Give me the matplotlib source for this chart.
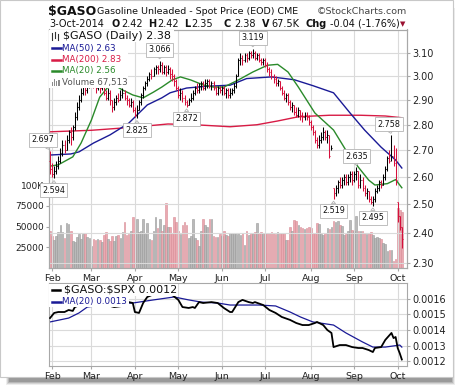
import numpy as np
import pandas as pd
import matplotlib
matplotlib.use("Agg")
import matplotlib.pyplot as plt
from matplotlib.patches import Rectangle
from matplotlib.lines import Line2D
from matplotlib.ticker import FixedLocator, NullLocator, FuncFormatter

W, H = 464, 387

# trading days Jan 31 .. Oct 3 2014
holidays = ["2014-02-17", "2014-04-18", "2014-05-26", "2014-07-04", "2014-09-01"]
days = pd.bdate_range("2014-01-31", "2014-10-03")
days = days[~days.isin(pd.to_datetime(holidays))]

close = [2.63, 2.61, 2.62, 2.64, 2.66, 2.69, 2.72, 2.70, 2.74, 2.77,
         2.75, 2.79, 2.83, 2.87, 2.90, 2.93, 2.96, 2.94, 2.97, 2.98,
         2.99, 2.96, 2.95, 2.97, 2.95, 2.96, 2.93, 2.91, 2.93, 2.90,
         2.87, 2.89, 2.91, 2.90, 2.92, 2.93, 2.91, 2.90, 2.88, 2.89,
         2.86, 2.84, 2.86, 2.89, 2.92, 2.95, 2.97, 2.99, 3.01, 3.00,
         3.03, 3.04, 3.03, 3.05, 3.02, 3.04, 3.02, 3.03, 3.01, 3.00,
         2.98, 2.95, 2.92, 2.93, 2.91, 2.89, 2.88, 2.90, 2.91, 2.93,
         2.95, 2.94, 2.96, 2.97, 2.95, 2.97, 2.98, 2.96, 2.97, 2.95,
         2.93, 2.95, 2.94, 2.95, 2.93, 2.94, 2.92, 2.93, 2.94, 2.96,
         3.00, 3.07, 3.08, 3.07, 3.09, 3.08, 3.10, 3.09, 3.10, 3.08,
         3.09, 3.07, 3.06, 3.07, 3.05, 3.03, 3.02, 3.00, 2.99, 2.97,
         2.98, 2.95, 2.93, 2.91, 2.92, 2.89, 2.87, 2.88, 2.85, 2.84,
         2.86, 2.84, 2.83, 2.84, 2.83, 2.81, 2.79, 2.77, 2.74, 2.72,
         2.74, 2.75, 2.77, 2.75, 2.76, 2.68, 2.71, 2.54, 2.56, 2.58,
         2.57, 2.59, 2.60, 2.58, 2.60, 2.61, 2.59, 2.61, 2.62, 2.57,
         2.59, 2.56, 2.54, 2.55, 2.52, 2.51, 2.52, 2.55, 2.56, 2.58,
         2.57, 2.60, 2.63, 2.67, 2.66, 2.68, 2.65, 2.59, 2.46, 2.42,
         2.38]
high = [2.697, 2.65, 2.64, 2.66, 2.68, 2.71, 2.74, 2.74, 2.76, 2.78,
        2.79, 2.80, 2.85, 2.89, 2.92, 2.95, 2.98, 2.98, 2.99, 3.00,
        3.01, 3.00, 2.98, 2.99, 2.98, 2.98, 2.97, 2.94, 2.95, 2.94,
        2.90, 2.91, 2.92, 2.93, 2.94, 2.95, 2.94, 2.92, 2.91, 2.91,
        2.90, 2.87, 2.88, 2.90, 2.93, 2.96, 2.98, 3.00, 3.02, 3.03,
        3.04, 3.05, 3.05, 3.066, 3.06, 3.05, 3.05, 3.05, 3.04, 3.03,
        3.01, 2.99, 2.96, 2.95, 2.94, 2.92, 2.90, 2.91, 2.93, 2.94,
        2.96, 2.97, 2.97, 2.98, 2.98, 2.99, 2.99, 2.99, 2.98, 2.98,
        2.96, 2.96, 2.96, 2.96, 2.96, 2.95, 2.95, 2.95, 2.95, 2.97,
        3.01, 3.08, 3.10, 3.09, 3.10, 3.10, 3.11, 3.11, 3.119, 3.11,
        3.10, 3.10, 3.08, 3.08, 3.08, 3.06, 3.04, 3.03, 3.01, 3.00,
        2.99, 2.98, 2.96, 2.94, 2.93, 2.93, 2.90, 2.89, 2.88, 2.87,
        2.87, 2.86, 2.85, 2.85, 2.85, 2.84, 2.82, 2.80, 2.78, 2.75,
        2.76, 2.77, 2.79, 2.78, 2.78, 2.76, 2.72, 2.56, 2.57, 2.59,
        2.60, 2.60, 2.61, 2.61, 2.61, 2.62, 2.62, 2.62, 2.635, 2.62,
        2.61, 2.60, 2.57, 2.56, 2.55, 2.53, 2.53, 2.56, 2.57, 2.59,
        2.59, 2.61, 2.64, 2.68, 2.70, 2.758, 2.72, 2.71, 2.51, 2.46,
        2.42]
low = [2.61, 2.60, 2.594, 2.61, 2.63, 2.65, 2.68, 2.69, 2.70, 2.73,
       2.72, 2.74, 2.78, 2.82, 2.86, 2.89, 2.92, 2.92, 2.93, 2.95,
       2.96, 2.95, 2.93, 2.94, 2.93, 2.94, 2.92, 2.90, 2.90, 2.88,
       2.85, 2.86, 2.88, 2.89, 2.90, 2.91, 2.90, 2.88, 2.87, 2.87,
       2.85, 2.83, 2.825, 2.86, 2.88, 2.91, 2.94, 2.96, 2.98, 2.99,
       3.00, 3.01, 3.01, 3.02, 3.01, 3.01, 3.00, 3.01, 2.99, 2.98,
       2.96, 2.94, 2.91, 2.90, 2.89, 2.88, 2.872, 2.88, 2.89, 2.90,
       2.92, 2.93, 2.93, 2.94, 2.94, 2.94, 2.95, 2.95, 2.94, 2.94,
       2.92, 2.92, 2.93, 2.92, 2.92, 2.91, 2.91, 2.91, 2.92, 2.93,
       2.95, 3.00, 3.05, 3.05, 3.06, 3.06, 3.07, 3.08, 3.08, 3.07,
       3.07, 3.06, 3.05, 3.05, 3.04, 3.02, 3.00, 2.99, 2.97, 2.96,
       2.96, 2.94, 2.92, 2.90, 2.89, 2.88, 2.86, 2.85, 2.84, 2.83,
       2.83, 2.82, 2.81, 2.82, 2.82, 2.80, 2.78, 2.76, 2.73, 2.71,
       2.71, 2.73, 2.74, 2.74, 2.73, 2.67, 2.70, 2.519, 2.53, 2.54,
       2.56, 2.56, 2.57, 2.57, 2.57, 2.58, 2.57, 2.58, 2.59, 2.56,
       2.56, 2.55, 2.53, 2.52, 2.51, 2.50, 2.495, 2.51, 2.54, 2.55,
       2.56, 2.57, 2.59, 2.62, 2.65, 2.66, 2.64, 2.57, 2.44, 2.41,
       2.35]
volume_k = [44, 38, 33, 38, 43, 52, 43, 36, 54, 53,
            45, 32, 31, 37, 41, 35, 41, 42, 37, 36,
            26, 35, 34, 35, 34, 31, 40, 43, 35, 32,
            39, 32, 39, 40, 36, 43, 56, 40, 41, 44,
            61, 41, 59, 43, 45, 59, 41, 54, 35, 34,
            45, 61, 48, 59, 44, 52, 79, 49, 49, 41,
            62, 56, 44, 41, 52, 55, 52, 36, 38, 59,
            36, 34, 26, 44, 59, 52, 50, 59, 59, 38,
            37, 37, 41, 38, 45, 40, 38, 42, 41, 42,
            41, 42, 40, 42, 27, 44, 40, 42, 41, 43,
            54, 42, 43, 42, 41, 42, 42, 43, 42, 41,
            43, 42, 41, 42, 34, 33, 50, 45, 58, 57,
            52, 50, 48, 47, 48, 49, 48, 42, 42, 54,
            53, 41, 40, 42, 48, 47, 49, 57, 56, 57,
            52, 51, 40, 41, 45, 58, 46, 44, 63, 45,
            44, 45, 42, 41, 42, 43, 40, 36, 37, 36,
            35, 30, 29, 20, 21, 21, 8, 10, 73, 70,
            67.5]

# moving averages (trading-day index, value)
ma50_idx = [0, 10, 14, 21, 29, 38, 43, 47, 54, 58, 66, 75, 87, 95, 107, 118, 127, 137, 145, 152, 160, 167, 170]
ma50_val = [2.682, 2.686, 2.694, 2.728, 2.76, 2.806, 2.847, 2.88, 2.909, 2.93, 2.95, 2.957, 2.962, 2.99, 2.997,
            2.985, 2.96, 2.93, 2.847, 2.779, 2.712, 2.663, 2.633]
ma200_idx = [0, 20, 40, 57, 70, 87, 100, 110, 120, 135, 150, 162, 170]
ma200_val = [2.772, 2.778, 2.79, 2.803, 2.80, 2.792, 2.80, 2.815, 2.832, 2.838, 2.838, 2.835, 2.828]
ma20_idx = [0, 4, 11, 15, 20, 24, 28, 31, 35, 40, 45, 50, 54, 59, 63, 68, 74, 79, 84, 91, 98, 105, 110, 115,
            120, 128, 137, 143, 149, 154, 157, 163, 167, 170]
ma20_val = [2.64, 2.645, 2.675, 2.728, 2.819, 2.912, 2.954, 2.963, 2.942, 2.921, 2.909, 2.933, 2.954, 2.984,
            2.997, 2.984, 2.963, 2.954, 2.954, 2.984, 3.018, 3.047, 3.051, 3.018, 2.954, 2.847, 2.779, 2.70,
            2.636, 2.588, 2.57, 2.575, 2.59, 2.56]

# $GASO:$SPX ratio and its MA(20)
ratio_idx = [0, 2, 4, 7, 9, 11, 12, 16, 20, 25, 31, 35, 38, 40, 41, 43, 45, 47, 50, 54, 59, 62, 64, 67, 69, 70,
             72, 74, 78, 81, 84, 87, 88, 91, 93, 96, 98, 99, 103, 106, 109, 112, 116, 119, 122, 125, 128, 129,
             132, 134, 136, 137, 140, 143, 146, 149, 151, 154, 156, 157, 160, 162, 165, 166, 167, 168, 169, 170]
ratio_val = [0.001477, 0.00151, 0.001516, 0.001516, 0.001529, 0.001523, 0.001548, 0.00157, 0.00158, 0.00157,
             0.001548, 0.001555, 0.00158, 0.001574, 0.001516, 0.00151, 0.001574, 0.001613, 0.00163, 0.00164,
             0.001626, 0.001594, 0.001548, 0.001542, 0.001548, 0.001542, 0.00158, 0.001574, 0.00158, 0.001574,
             0.001542, 0.001516, 0.001516, 0.00158, 0.001594, 0.00158, 0.001574, 0.00158, 0.001561, 0.001529,
             0.00151, 0.001484, 0.001465, 0.001445, 0.001432, 0.001432, 0.001445, 0.001452, 0.001432, 0.0014,
             0.001381, 0.00129, 0.001303, 0.001303, 0.00129, 0.001284, 0.001284, 0.001271, 0.001258, 0.001284,
             0.00129, 0.001336, 0.001381, 0.001348, 0.001355, 0.001284, 0.00125, 0.00121]
rma_idx = [0, 9, 14, 18, 30, 40, 50, 60, 67, 73, 81, 87, 101, 109, 116, 121, 127, 137, 143, 151, 156, 162, 169, 170]
rma_val = [0.001452, 0.001477, 0.00151, 0.001548, 0.00157, 0.001574, 0.001594, 0.001613, 0.001594, 0.00158,
           0.001574, 0.001561, 0.001561, 0.001555, 0.001516, 0.001484, 0.001452, 0.001432, 0.001381, 0.001323,
           0.00129, 0.00129, 0.001303, 0.00129]

# labelled highs / lows
ann_idx = [0, 2, 42, 53, 66, 98, 137, 148, 156, 165]
ann_val = [2.697, 2.594, 2.825, 3.066, 2.872, 3.119, 2.519, 2.635, 2.495, 2.758]

price_ticks = [2.30, 2.40, 2.50, 2.60, 2.70, 2.80, 2.90, 3.00, 3.10]
vol_ticks = [25000, 50000, 75000, 100000]
vol_labels = ["25000", "50000", "75000", "100K"]
ratio_ticks = [0.0012, 0.0013, 0.0014, 0.0015, 0.0016]

RED = "#d6103c"
NAVY = "#1a1a96"
CRIMSON = "#d81b45"
GREEN = "#2a8a2a"
GRID = "#dadada"
SPINE = "#a8a8a8"


def fx(px):
    return px / W


def fy(py):
    return 1 - py / H


fig = plt.figure(figsize=(W / 100, H / 100), dpi=100)
fig.patch.set_facecolor("white")

# card with drop shadow (behind the axes)
for k, a in enumerate([0.10, 0.16, 0.22, 0.30]):
    fig.patches.append(Rectangle((fx(6 + k), fy(385 - k)), fx(455 - k) - fx(6 + k), fy(8 + k) - fy(385 - k),
                                 transform=fig.transFigure, fc="#555555", ec="none", alpha=a, zorder=-3))
fig.patches.append(Rectangle((fx(0), fy(377)), fx(453), fy(0) - fy(377), transform=fig.transFigure,
                             fc="white", ec="#c8c8c8", lw=0.8, zorder=-2))

x = np.arange(len(close))
up = np.r_[False, np.diff(close) >= 0]
bar_col = np.where(up, "black", RED)
opens = np.clip(np.r_[close[0] + 0.03, close[:-1]], low, high)

month_idx = [np.where(days.month == m)[0][0] for m in range(2, 11)]
month_lab = [days[i].strftime("%b") for i in month_idx]

# ---- price panel ----
ax = fig.add_axes([fx(49), fy(268), fx(407) - fx(49), fy(29.5) - fy(268)])
axv = ax.twinx()
ax.set_zorder(axv.get_zorder() + 1)
ax.patch.set_visible(False)
axv.patch.set_visible(False)

vol_face = np.where(up, "#b9b9b9", "#eaa9b1")
vol_edge = np.where(up, "#9a9a9a", "#d88c96")
axv.bar(x, np.array(volume_k) * 1000, width=0.8, color=vol_face, edgecolor=vol_edge, linewidth=0.4)
axv.set_ylim(-600, 290200)
axv.yaxis.tick_left()
axv.yaxis.set_major_locator(FixedLocator(vol_ticks))
axv.set_yticklabels(vol_labels)
axv.tick_params(axis="y", labelsize=6.5, length=2, pad=1.5, colors=SPINE, labelcolor="#222222")

ax.vlines(x, low, high, colors=bar_col, lw=0.75, zorder=3)
ax.hlines(opens, x - 0.45, x, colors=bar_col, lw=0.75, zorder=3)
ax.hlines(close, x, x + 0.45, colors=bar_col, lw=0.75, zorder=3)
ax.plot(ma200_idx, ma200_val, color=CRIMSON, lw=1.0, zorder=2)
ax.plot(ma50_idx, ma50_val, color=NAVY, lw=1.0, zorder=2)
ax.plot(ma20_idx, ma20_val, color=GREEN, lw=1.0, zorder=2)

ax.set_yscale("log")
ax.set_ylim(2.284, 3.206)
ax.set_xlim(-0.5, 172.5)
ax.yaxis.tick_right()
ax.yaxis.set_major_locator(FixedLocator(price_ticks))
ax.yaxis.set_minor_locator(NullLocator())
ax.yaxis.set_major_formatter(FuncFormatter(lambda v, _: f"{v:.2f}"))
ax.set_xticks(month_idx)
ax.set_xticklabels(month_lab)
ax.tick_params(axis="y", labelsize=7, length=2, pad=2, colors=SPINE, labelcolor="#222222")
ax.tick_params(axis="x", labelsize=6.8, length=2, pad=2, colors=SPINE, labelcolor="#222222")
ax.grid(True, color=GRID, lw=0.8)
for a in (ax, axv):
    for s in a.spines.values():
        s.set_color(SPINE)

for i, v in zip(ann_idx, ann_val):
    is_high = v == high[i]
    dy = 8 if is_high else -8.5
    dx = {0: -5, 2: -0.5, 165: -2}.get(i, 0)
    ax.annotate(f"{v:.3f}", xy=(i, v), xytext=(dx, dy), textcoords="offset points",
                ha="center", va="center", fontsize=5.8, color="#111111", zorder=7,
                annotation_clip=False,
                bbox=dict(boxstyle="square,pad=0.3", fc="white", ec="#b4b4b4", lw=0.6),
                arrowprops=dict(arrowstyle="wedge,tail_width=0.5,shrink_factor=0.5", fc="white",
                                ec="#b4b4b4", lw=0.6, shrinkA=0, shrinkB=1.5))

# legend block (opaque)
fig.patches.append(Rectangle((fx(49.5), fy(42)), fx(174) - fx(49.5), fy(30) - fy(42),
                             transform=fig.transFigure, fc="white", ec="none", zorder=5))
fig.patches.append(Rectangle((fx(49.5), fy(88)), fx(128) - fx(49.5), fy(42) - fy(88),
                             transform=fig.transFigure, fc="white", ec="none", zorder=5))
# tiny OHLC glyph
for gx, y0, y1 in [(52.5, 33, 40), (55.5, 31.5, 38), (58.5, 34, 40)]:
    fig.lines.append(Line2D([fx(gx), fx(gx)], [fy(y1), fy(y0)], transform=fig.transFigure,
                            color="#333333", lw=0.8, zorder=6))
fig.text(fx(63), fy(36), "\\$GASO (Daily) 2.38", fontsize=8, va="center", color="#111111", zorder=6)
leg_rows = [(48, NAVY, "MA(50) 2.63"), (59.5, CRIMSON, "MA(200) 2.83"), (71, GREEN, "MA(20) 2.56")]
for yy, c, t in leg_rows:
    fig.lines.append(Line2D([fx(51.5), fx(61)], [fy(yy), fy(yy)], transform=fig.transFigure,
                            color=c, lw=1.8, zorder=6))
    fig.text(fx(62), fy(yy), t, fontsize=6.3, va="center", color=c, zorder=6)
for k, hh in enumerate([4, 7, 5, 6]):
    fig.patches.append(Rectangle((fx(51.5 + 2.2 * k), fy(86)), fx(1.6), fy(86 - hh) - fy(86),
                                 transform=fig.transFigure, fc="#8c8c8c", ec="none", zorder=6))
fig.text(fx(62), fy(82.5), "Volume 67,513", fontsize=6.3, va="center", color="#555555", zorder=6)

# ---- ratio panel ----
axr = fig.add_axes([fx(49), fy(366), fx(407) - fx(49), fy(283) - fy(366)])
axr.patch.set_visible(False)
axr.plot(rma_idx, rma_val, color=NAVY, lw=0.9, zorder=2)
axr.plot(ratio_idx, ratio_val, color="black", lw=1.3, zorder=3)
axr.set_xlim(-0.5, 172.5)
axr.set_ylim(0.001168, 0.001703)
axr.yaxis.tick_right()
axr.yaxis.set_major_locator(FixedLocator(ratio_ticks))
axr.yaxis.set_major_formatter(FuncFormatter(lambda v, _: f"{v:.4f}"))
axr.set_xticks(month_idx)
axr.set_xticklabels(month_lab)
axr.tick_params(axis="y", labelsize=7, length=2, pad=2, colors=SPINE, labelcolor="#222222")
axr.tick_params(axis="x", labelsize=6.8, length=2, pad=2, colors=SPINE, labelcolor="#222222")
axr.grid(True, color=GRID, lw=0.8)
axr.set_axisbelow(True)
for s in axr.spines.values():
    s.set_color(SPINE)

fig.patches.append(Rectangle((fx(49.5), fy(296)), fx(178) - fx(49.5), fy(283.5) - fy(296),
                             transform=fig.transFigure, fc="white", ec="none", zorder=5))
fig.patches.append(Rectangle((fx(49.5), fy(307)), fx(129) - fx(49.5), fy(296) - fy(307),
                             transform=fig.transFigure, fc="white", ec="none", zorder=5))
fig.lines.append(Line2D([fx(52), fx(60)], [fy(290), fy(290)], transform=fig.transFigure,
                        color="black", lw=1.8, zorder=6))
fig.text(fx(64), fy(290), "\\$GASO:\\$SPX 0.0012", fontsize=8, va="center", color="#111111", zorder=6)
fig.lines.append(Line2D([fx(51.5), fx(61)], [fy(301.5), fy(301.5)], transform=fig.transFigure,
                        color=NAVY, lw=1.8, zorder=6))
fig.text(fx(62), fy(301.5), "MA(20) 0.0013", fontsize=6.3, va="center", color=NAVY, zorder=6)

# ---- header ----
fig.text(fx(48), fy(15), "\\$GASO", fontsize=9, fontweight="bold", va="baseline", color="#111111")
fig.text(fx(97), fy(14), "Gasoline Unleaded - Spot Price (EOD) CME", fontsize=6.8, va="baseline",
         color="#111111")
fig.text(fx(407), fy(14), "\u00a9StockCharts.com", fontsize=6.8, va="baseline", ha="right", color="#444444")
head = [("3-Oct-2014", 49, "normal"), ("O", 112, "bold"), ("2.42", 121, "normal"),
        ("H", 148, "bold"), ("2.42", 157, "normal"), ("L", 184, "bold"), ("2.35", 191, "normal"),
        ("C", 224, "bold"), ("2.38", 234, "normal"), ("V", 262, "bold"), ("67.5K", 271, "normal"),
        ("Chg", 306, "bold"), ("-0.04 (-1.76%)", 330, "normal")]
for t, px, wgt in head:
    fig.text(fx(px), fy(27), t, fontsize=7, fontweight=wgt, va="baseline", color="#111111")
fig.text(fx(403), fy(24), "\u25bc", fontsize=5, ha="center", va="center", color="#9a1030")

fig.savefig("out.png", dpi=100, facecolor="white")
